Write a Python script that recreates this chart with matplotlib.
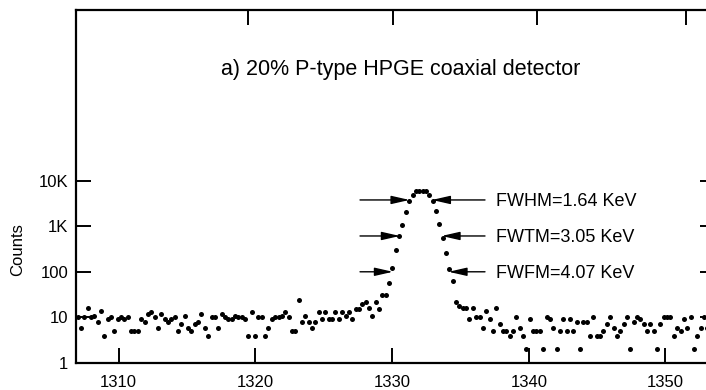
import numpy as np
import matplotlib.pyplot as plt
from matplotlib.ticker import NullLocator

plt.rcParams['font.family'] = ['Liberation Sans', 'DejaVu Sans']

# spectrum around the 1332 keV line, one count value per channel
e_start = 1307.0
e_step = 0.245
counts = [10, 6, 10, 16, 10, 11, 8, 14, 4, 9,
          10, 5, 9, 10, 9, 10, 5, 5, 5, 9,
          8, 12, 13, 10, 6, 12, 9, 8, 9, 10,
          5, 7, 11, 6, 5, 7, 8, 12, 6, 4,
          10, 10, 6, 12, 10, 9, 9, 11, 10, 10,
          9, 4, 13, 4, 10, 10, 4, 6, 9, 10,
          10, 11, 13, 10, 5, 5, 24, 8, 11, 8,
          6, 8, 13, 9, 13, 9, 9, 13, 9, 13,
          11, 13, 9, 15, 15, 20, 22, 16, 11, 22,
          15, 31, 31, 56, 120, 300, 620, 1060, 2080, 3630,
          4830, 5900, 6000, 6000, 5900, 4830, 3630, 2150, 1100, 560,
          254, 115, 63, 22, 18, 16, 16, 9, 16, 10,
          10, 6, 14, 9, 5, 16, 7, 5, 5, 4,
          5, 10, 6, 4, 2, 9, 5, 5, 5, 2,
          10, 9, 6, 2, 5, 9, 5, 9, 5, 8,
          2, 8, 8, 4, 10, 4, 4, 5, 7, 10,
          6, 4, 5, 7, 10, 2, 8, 10, 9, 7,
          5, 7, 5, 2, 7, 10, 10, 10, 4, 6,
          5, 9, 6, 10, 2, 4, 6, 10, 6]
energy = e_start + e_step * np.arange(len(counts))

x_ticks = [1310, 1320, 1330, 1340, 1350]
top_ticks = [1319.5, 1330.1, 1340.6, 1351.5]
y_ticks = [1, 10, 100, 1000, 10000]
y_labels = ['1', '10', '100', '1K', '10K']

# peak widths and the levels where they are measured
peak_center = 1332.1
width_names = ['FWHM', 'FWTM', 'FWFM']
width_values = [1.64, 3.05, 4.07]
width_levels = [3760, 610, 100]

fig = plt.figure(figsize=(7.06, 3.90), dpi=100)
ax = fig.add_axes([76 / 706, 27 / 390, 639 / 706, 353 / 390])

ax.plot(energy, counts, 'o', ms=3.6, color='black', mec='black', mew=0)

ax.set_yscale('log')
ax.set_xlim(1306.89, 1353.62)
ax.set_ylim(1, 5.5e7)
ax.set_xticks(x_ticks)
ax.set_yticks(y_ticks)
ax.set_yticklabels(y_labels)
ax.yaxis.set_minor_locator(NullLocator())
ax.xaxis.set_minor_locator(NullLocator())
ax.tick_params(direction='in', length=11, width=1.4, labelsize=12, right=True)
ax.tick_params(axis='x', pad=8.5)
ax.tick_params(axis='y', pad=5.5)
for s in ax.spines.values():
    s.set_linewidth(1.6)

ax2 = ax.twiny()
ax2.set_xlim(ax.get_xlim())
ax2.set_xticks(top_ticks)
ax2.xaxis.set_minor_locator(NullLocator())
ax2.tick_params(direction='in', length=11, width=1.4, labeltop=False)
for s in ax2.spines.values():
    s.set_visible(False)

arrow_style = dict(arrowstyle='-|>,head_length=1.1,head_width=0.25',
                   color='black', lw=1.0, shrinkA=0, shrinkB=0)
for name, w, lev in zip(width_names, width_values, width_levels):
    ax.annotate('', xy=(peak_center - w / 2, lev), xytext=(1327.66, lev),
                arrowprops=arrow_style, zorder=5)
    ax.annotate('', xy=(peak_center + w / 2, lev), xytext=(1336.8, lev),
                arrowprops=arrow_style, zorder=5)
    ax.text(1337.6, lev, f'{name}={w:.2f} KeV', fontsize=13,
            va='center_baseline', ha='left')

fig.text(401 / 706, 1 - 75 / 390, 'a) 20% P-type HPGE coaxial detector',
         fontsize=15.5, ha='center', va='baseline')
fig.text(18 / 706, 1 - 250 / 390, 'Counts', rotation=90, fontsize=12,
         ha='center', va='center')

fig.savefig('out.png', dpi=100)
